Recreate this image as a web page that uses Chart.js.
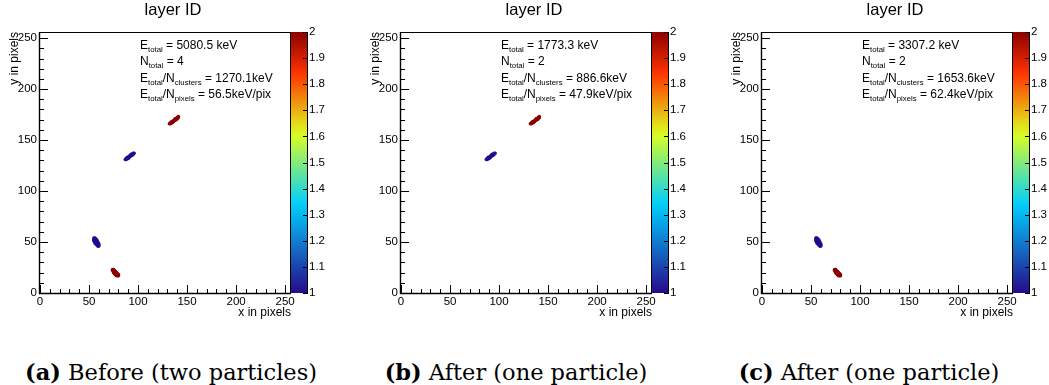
<!DOCTYPE html>
<html>
<head>
<meta charset="utf-8">
<title>layer ID</title>
<script src="https://cdn.jsdelivr.net/npm/chart.js@4.4.0/dist/chart.umd.min.js"></script>
<style>
  html, body { margin: 0; padding: 0; background: #fff; }
  body { width: 1049px; height: 385px; position: relative; overflow: hidden; }
  .panel { position: absolute; top: 0; width: 346px; height: 320px; }
  .caption {
    position: absolute; top: 361px; width: 340px; text-align: center;
    font-family: "DejaVu Serif", serif; font-size: 22.5px; line-height: 22px;
    color: #000; white-space: nowrap;
  }
</style>
</head>
<body>
<div class="panel" style="left:0px"><canvas id="c0" width="346" height="320"></canvas></div>
<div class="panel" style="left:361px"><canvas id="c1" width="346" height="320"></canvas></div>
<div class="panel" style="left:722px"><canvas id="c2" width="346" height="320"></canvas></div>
<div class="caption" style="left:1px"><b>(a)</b> Before (two particles)</div>
<div class="caption" style="left:346px"><b>(b)</b> After (one particle)</div>
<div class="caption" style="left:699px"><b>(c)</b> After (one particle)</div>

<script>
// summary numbers printed in each panel
const eTotal = [5080.5, 1773.3, 3307.2];
const nTotal = [4, 2, 2];
const ePerCluster = [1270.1, 886.6, 1653.6];
const ePerPixel = [56.5, 47.9, 62.4];

// axis ticks
const xyTicks = [0, 50, 100, 150, 200, 250];
const layerTicks = [1, 1.1, 1.2, 1.3, 1.4, 1.5, 1.6, 1.7, 1.8, 1.9, 2];

// hit pixels [x, y] of each cluster
const hitsUpperRed = [
  [132,166],[133,166],
  [133,167],[134,167],[135,167],
  [134,168],[135,168],[136,168],
  [136,169],[137,169],
  [137,170],[138,170],[139,170],
  [138,171],[139,171],[140,171],
  [140,172],[141,172],
  [141,173]
];
const hitsMiddleBlue = [
  [87,131],[88,131],
  [88,132],[89,132],[90,132],
  [89,133],[90,133],[91,133],
  [91,134],[92,134],
  [92,135],[93,135],[94,135],
  [93,136],[94,136],[95,136],
  [95,137],[96,137]
];
const hitsLowerBlue = [
  [55,54],[56,54],
  [55,53],[56,53],[57,53],
  [55,52],[56,52],[57,52],[58,52],
  [55,51],[56,51],[57,51],[58,51],
  [56,50],[57,50],[58,50],[59,50],
  [56,49],[57,49],[58,49],[59,49],
  [57,48],[58,48],[59,48],[60,48],
  [58,47],[59,47],[60,47],
  [59,46],[60,46]
];
const hitsBottomRed = [
  [74,23],[75,23],
  [74,22],[75,22],[76,22],
  [75,21],[76,21],[77,21],
  [75,20],[76,20],[77,20],[78,20],
  [76,19],[77,19],[78,19],[79,19],
  [77,18],[78,18],[79,18],[80,18],
  [78,17],[79,17],[80,17]
];

const clusterHits = [hitsUpperRed, hitsMiddleBlue, hitsLowerBlue, hitsBottomRed];
const clusterLayer = [2, 1, 1, 2];
const panelClusters = [[0, 1, 2, 3], [0, 1], [2, 3]];

// ROOT style rainbow palette
const palStops = [0.00, 0.34, 0.61, 0.84, 1.00];
const palR = [38, 0, 222, 255, 140];
const palG = [10, 207, 255, 51, 0];
const palB = [140, 255, 31, 0, 0];

function paletteColor(f) {
  let i = 0;
  while (i < palStops.length - 2 && f > palStops[i + 1]) i++;
  const t = (f - palStops[i]) / (palStops[i + 1] - palStops[i]);
  const c = k => Math.round(k[i] + (k[i + 1] - k[i]) * t);
  return `rgb(${c(palR)},${c(palG)},${c(palB)})`;
}

const FONT = '"Liberation Sans", Arial, sans-serif';

function drawRich(ctx, parts, x, y) {
  parts.forEach(p => {
    ctx.font = (p.sub ? '7.8px ' : '12px ') + FONT;
    ctx.fillText(p.t, x, p.sub ? y + 3 : y);
    x += ctx.measureText(p.t).width;
  });
}

const rootFrame = {
  id: 'rootFrame',
  afterDraw(chart) {
    const ctx = chart.ctx;
    const { left, right, top, bottom } = chart.chartArea;
    const xs = chart.scales.x, ys = chart.scales.y, zs = chart.scales.z;
    ctx.save();
    ctx.strokeStyle = '#000';
    ctx.lineWidth = 1;
    ctx.strokeRect(Math.round(left) - 0.5, Math.round(top) + 0.5, Math.round(right - left), Math.round(bottom - top));
    // slightly heavier axis lines
    ctx.lineWidth = 1.4;
    ctx.beginPath();
    ctx.moveTo(left - 0.5, top); ctx.lineTo(left - 0.5, bottom + 0.5); ctx.lineTo(right, bottom + 0.5);
    ctx.stroke();
    ctx.lineWidth = 1;

    // inward ticks, major every 50, minor every 10
    ctx.beginPath();
    for (let v = 0; v <= 256; v += 10) {
      const len = v % 50 === 0 ? 8 : 4;
      const px = Math.round(xs.getPixelForValue(v)) + 0.5;
      ctx.moveTo(px, bottom); ctx.lineTo(px, bottom - len);
      const py = Math.round(ys.getPixelForValue(v)) + 0.5;
      ctx.moveTo(left, py); ctx.lineTo(left + len, py);
    }
    ctx.stroke();

    // colour bar
    const barL = right, barR = right + 17;
    const y1 = zs.getPixelForValue(1), y2 = zs.getPixelForValue(2);
    const grad = ctx.createLinearGradient(0, y1, 0, y2);
    for (let k = 0; k <= 20; k++) grad.addColorStop(k / 20, paletteColor(k / 20));
    ctx.fillStyle = grad;
    ctx.fillRect(barL, y2, barR - barL, y1 - y2);
    ctx.beginPath();
    ctx.moveTo(barR - 0.5, y2); ctx.lineTo(barR - 0.5, y1);
    layerTicks.forEach(v => {
      const py = Math.round(zs.getPixelForValue(v)) + 0.5;
      ctx.moveTo(barR - 5, py); ctx.lineTo(barR, py);
    });
    ctx.stroke();

    // summary text
    const i = chart.options.plugins.rootFrame.panel;
    ctx.fillStyle = '#000';
    ctx.textBaseline = 'alphabetic';
    const tx = left + 100;
    const lines = [
      [{t: 'E'}, {t: 'total', sub: true}, {t: ' = ' + eTotal[i].toFixed(1) + ' keV'}],
      [{t: 'N'}, {t: 'total', sub: true}, {t: ' = ' + nTotal[i]}],
      [{t: 'E'}, {t: 'total', sub: true}, {t: '/N'}, {t: 'clusters', sub: true}, {t: ' = ' + ePerCluster[i].toFixed(1) + 'keV'}],
      [{t: 'E'}, {t: 'total', sub: true}, {t: '/N'}, {t: 'pixels', sub: true}, {t: ' = ' + ePerPixel[i].toFixed(1) + 'keV/pix'}]
    ];
    lines.forEach((parts, k) => drawRich(ctx, parts, tx, top + 17 + k * 16.3));
    ctx.restore();
  }
};

const tickFont = { family: FONT, size: 11.5 };
const titleFont = { family: FONT, size: 12 };

panelClusters.forEach((ids, i) => {
  const datasets = ids.map(id => ({
    data: clusterHits[id].map(h => ({ x: h[0], y: h[1] })),
    backgroundColor: paletteColor(clusterLayer[id] - 1),
    borderWidth: 0,
    pointRadius: 1.8,
    pointStyle: 'circle',
    xAxisID: 'x',
    yAxisID: 'y'
  }));

  new Chart(document.getElementById('c' + i), {
    type: 'scatter',
    data: { datasets },
    plugins: [rootFrame],
    options: {
      responsive: false,
      animation: false,
      events: [],
      layout: { padding: 0 },
      plugins: {
        legend: { display: false },
        tooltip: { enabled: false },
        title: {
          display: true,
          text: 'layer ID',
          color: '#000',
          font: { family: FONT, size: 16.5, weight: 'normal' },
          padding: { top: 1, bottom: 11.2 }
        },
        rootFrame: { panel: i }
      },
      scales: {
        x: {
          type: 'linear', min: 0, max: 256,
          grid: { display: false, drawTicks: false },
          border: { display: false },
          ticks: {
            color: '#000', font: tickFont, padding: 2, maxRotation: 0,
            stepSize: 50, includeBounds: false, autoSkip: false
          },
          afterBuildTicks: s => { s.ticks = xyTicks.map(v => ({ value: v })); },
          title: { display: true, text: 'x in pixels', align: 'end', color: '#000', font: titleFont, padding: 0 },
          afterFit: s => { s.height = 27; }
        },
        y: {
          type: 'linear', min: 0, max: 256,
          grid: { display: false, drawTicks: false },
          border: { display: false },
          ticks: {
            color: '#000', font: tickFont, padding: 3,
            stepSize: 50, includeBounds: false, autoSkip: false
          },
          afterBuildTicks: s => { s.ticks = xyTicks.map(v => ({ value: v })); },
          title: { display: true, text: 'y in pixels', align: 'end', color: '#000', font: titleFont, padding: { top: 7, bottom: 0 } },
          afterFit: s => { s.width = 40; }
        },
        z: {
          type: 'linear', axis: 'y', position: 'right', min: 1, max: 2,
          grid: { display: false, drawTicks: false },
          border: { display: false },
          ticks: {
            color: '#000', font: tickFont, padding: 18, autoSkip: false,
            callback: v => String(+(+v).toFixed(1))
          },
          afterBuildTicks: s => { s.ticks = layerTicks.map(v => ({ value: v })); },
          afterFit: s => { s.width = 55; }
        }
      }
    }
  });
});
</script>
</body>
</html>
